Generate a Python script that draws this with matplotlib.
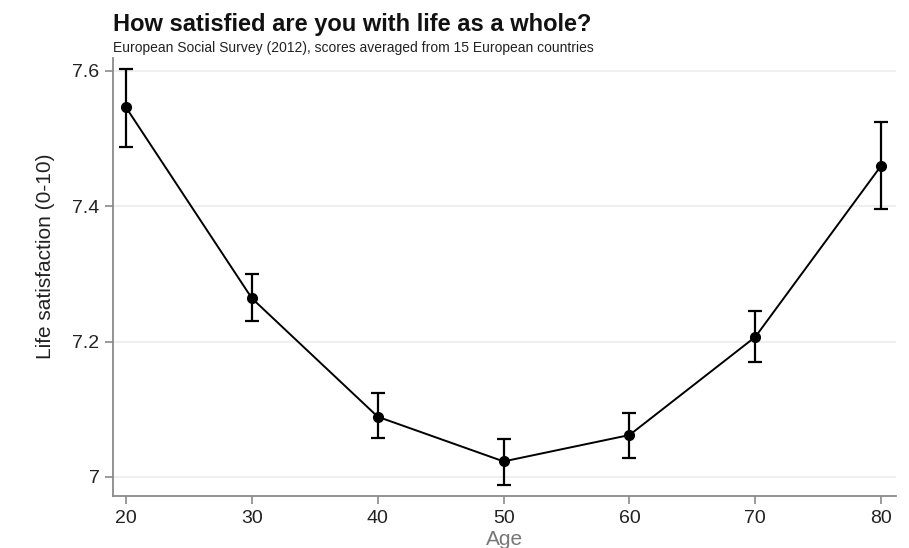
import matplotlib
matplotlib.use("Agg")
import matplotlib.pyplot as plt
from matplotlib import font_manager
import numpy as np

plt.rcParams['font.family'] = ['Liberation Sans', 'DejaVu Sans']

ages = [20, 30, 40, 50, 60, 70, 80]
means = [7.546, 7.264, 7.089, 7.023, 7.062, 7.207, 7.460]
ci_low = [7.487, 7.231, 7.058, 6.988, 7.028, 7.170, 7.396]
ci_high = [7.603, 7.300, 7.124, 7.056, 7.095, 7.246, 7.524]
yticks = [7.0, 7.2, 7.4, 7.6]
ytick_labels = ["7", "7.2", "7.4", "7.6"]
xticks = [20, 30, 40, 50, 60, 70, 80]

title = "How satisfied are you with life as a whole?"
subtitle = "European Social Survey (2012), scores averaged from 15 European countries"

installed = {f.name for f in font_manager.fontManager.ttflist}
narrow = 'Liberation Sans Narrow' if 'Liberation Sans Narrow' in installed else 'Liberation Sans'

fig = plt.figure(figsize=(9.09, 5.48), dpi=100)
ax = fig.add_axes([0.124, 0.095, 0.862, 0.799])

m = np.array(means)
yerr = np.vstack([m - np.array(ci_low), np.array(ci_high) - m])
ax.errorbar(ages, means, yerr=yerr, color='black', ecolor='black', lw=1.4,
            elinewidth=1.6, capsize=4.8, capthick=1.6, marker='o', ms=7, zorder=3)

ax.set_xlim(18.94, 81.2)
ax.set_ylim(6.972, 7.619)
ax.set_yticks(yticks)
ax.set_yticklabels(ytick_labels)
ax.set_xticks(xticks)
ax.yaxis.grid(True, color='#ececec', lw=1.2)
ax.set_axisbelow(True)
for s in ['top', 'right']:
    ax.spines[s].set_visible(False)
for s in ['left', 'bottom']:
    ax.spines[s].set_color('#8a8a8a')
    ax.spines[s].set_linewidth(1.3)
ax.tick_params(axis='both', colors='#8a8a8a', length=6, width=1.2, labelsize=14,
               labelcolor='#222222')
ax.tick_params(axis='x', pad=4)

ax.set_ylabel("Life satisfaction (0-10)", fontsize=16 if narrow != 'Liberation Sans' else 15,
              color='#222222', family=[narrow, 'DejaVu Sans'])
ax.yaxis.set_label_coords(-0.074, 0.548)
ax.set_xlabel("Age", fontsize=15, color='#777777', labelpad=2)

fig.text(0.124, 0.955, title, fontsize=17, fontweight='bold', color='#111111',
         ha='left', va='center')
fig.text(0.124, 0.913, subtitle, fontsize=10, color='#222222', ha='left', va='center')

fig.savefig("out.png", dpi=100, facecolor='white')
